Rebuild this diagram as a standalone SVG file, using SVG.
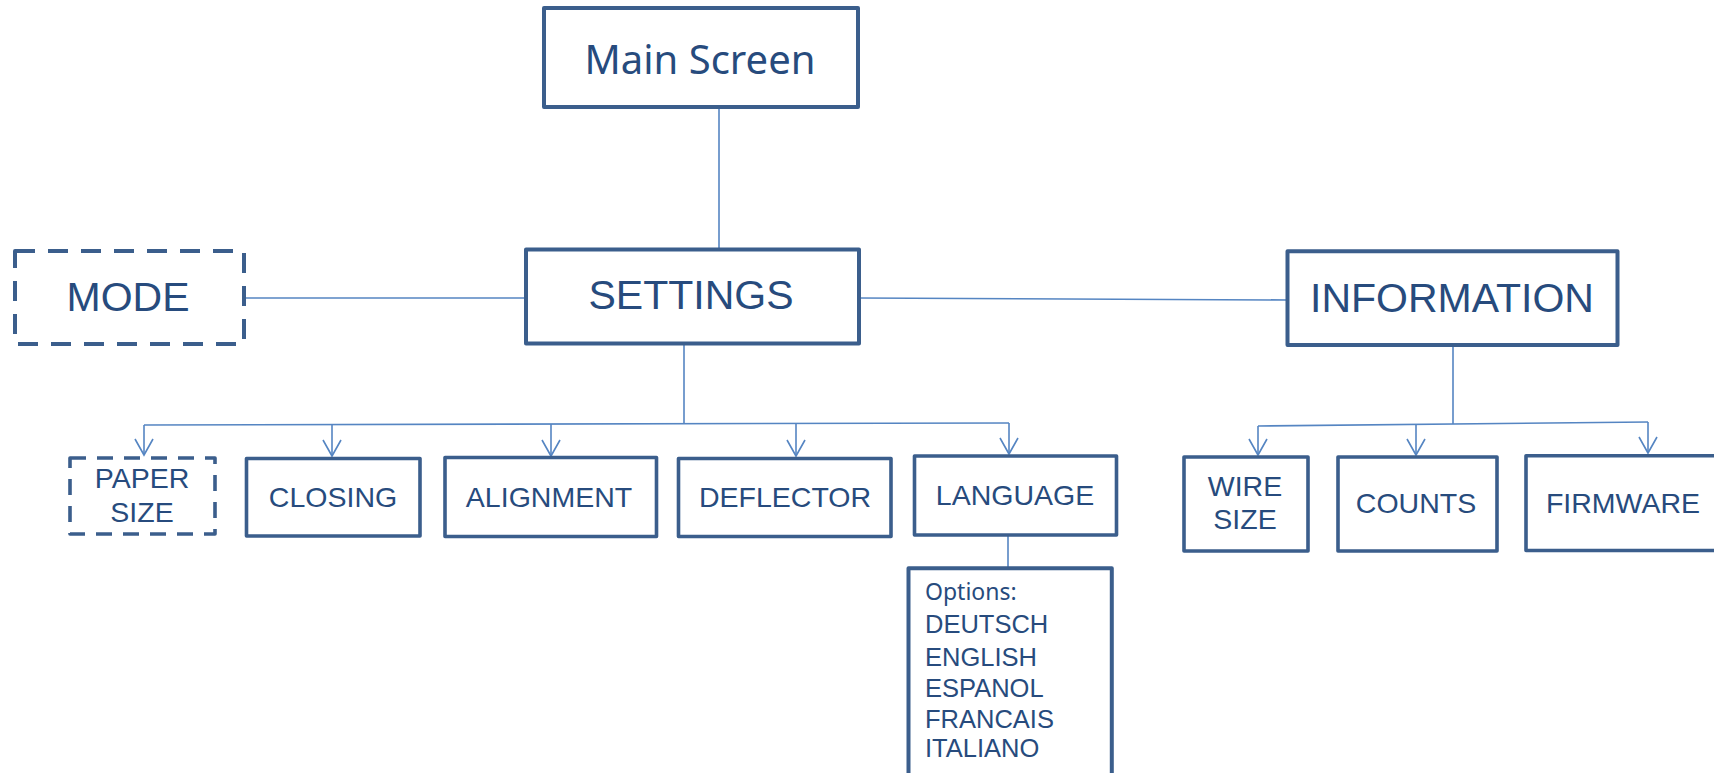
<svg xmlns="http://www.w3.org/2000/svg" width="1714" height="773" viewBox="0 0 1714 773">
<style>
.box{fill:#fff;stroke:#3B5E8C;stroke-width:4;stroke-linejoin:round}
.sbox{fill:#fff;stroke:#3B5E8C;stroke-width:3.6;stroke-linejoin:round}
.dash{stroke-dasharray:20 13}
.dash2{stroke-dasharray:16 11}
.t{font-family:"Liberation Sans",Arial,sans-serif;fill:#274B7D;text-anchor:middle}
.big{font-size:41px}
.small{font-size:28.5px}
.cal{font-family:"Noto Sans","Open Sans",sans-serif;fill:#274B7D}
.opt{font-family:"Liberation Sans",Arial,sans-serif;fill:#274B7D;font-size:25.5px}
.c{fill:none;stroke:#5585C2;stroke-width:1.6}
</style>
<defs>
<marker id="arr" markerUnits="userSpaceOnUse" viewBox="-18 -11 20 22" refX="0" refY="0" markerWidth="20" markerHeight="22" orient="auto" overflow="visible">
<path d="M-16,-9 L0,0 L-16,9" fill="none" stroke="#5585C2" stroke-width="1.6"/>
</marker>
</defs>
<g id="connectors">
<line class="c" x1="719" y1="107" x2="719" y2="249"/>
<line class="c" x1="244" y1="298" x2="526" y2="298"/>
<line class="c" x1="859" y1="298" x2="1287" y2="300"/>
<line class="c" x1="684" y1="344" x2="684" y2="424"/>
<polyline class="c" points="144,425 1009,423"/>
<line class="c" x1="144" y1="425" x2="144" y2="455" marker-end="url(#arr)"/>
<line class="c" x1="332" y1="425" x2="332" y2="456" marker-end="url(#arr)"/>
<line class="c" x1="551" y1="424" x2="551" y2="456" marker-end="url(#arr)"/>
<line class="c" x1="796" y1="424" x2="796" y2="456" marker-end="url(#arr)"/>
<line class="c" x1="1009" y1="423" x2="1009" y2="454" marker-end="url(#arr)"/>
<line class="c" x1="1008" y1="535" x2="1008" y2="568"/>
<line class="c" x1="1453" y1="345" x2="1453" y2="424"/>
<polyline class="c" points="1258,426 1648,422"/>
<line class="c" x1="1258" y1="426" x2="1258" y2="455" marker-end="url(#arr)"/>
<line class="c" x1="1416" y1="425" x2="1416" y2="455" marker-end="url(#arr)"/>
<line class="c" x1="1648" y1="422" x2="1648" y2="453" marker-end="url(#arr)"/>
</g>
<g id="main-screen">
<rect class="box" x="544" y="8" width="314" height="99"/>
<text class="cal" x="700" y="74" font-size="40" text-anchor="middle">Main Screen</text>
</g>
<g id="mode">
<rect class="box dash" x="15" y="251" width="229" height="93"/>
<text class="t big" x="128" y="311">MODE</text>
</g>
<g id="settings">
<rect class="box" x="526" y="249.5" width="333" height="94"/>
<text class="t big" x="691" y="309">SETTINGS</text>
</g>
<g id="information">
<rect class="box" x="1287.5" y="251.3" width="330" height="93.7"/>
<text class="t big" x="1452" y="312">INFORMATION</text>
</g>
<g id="paper-size">
<rect class="sbox dash2" x="70" y="458" width="145" height="76"/>
<text class="t small" x="142" y="488">PAPER</text>
<text class="t small" x="142" y="522">SIZE</text>
</g>
<g id="closing">
<rect class="sbox" x="246.5" y="458.5" width="173.5" height="77.5"/>
<text class="t small" x="333" y="507">CLOSING</text>
</g>
<g id="alignment">
<rect class="sbox" x="445" y="457.5" width="211.5" height="79"/>
<text class="t small" x="549" y="507">ALIGNMENT</text>
</g>
<g id="deflector">
<rect class="sbox" x="678.5" y="458.5" width="212.5" height="78"/>
<text class="t small" x="785" y="507">DEFLECTOR</text>
</g>
<g id="language">
<rect class="sbox" x="914.5" y="456" width="202" height="79"/>
<text class="t small" x="1015" y="505">LANGUAGE</text>
</g>
<g id="language-options">
<rect class="box" x="908.5" y="568.3" width="203.3" height="230"/>
<text class="cal" x="925" y="600" font-size="23">Options:</text>
<text class="opt" x="925" y="633">DEUTSCH</text>
<text class="opt" x="925" y="665.5">ENGLISH</text>
<text class="opt" x="925" y="696.5">ESPANOL</text>
<text class="opt" x="925" y="728">FRANCAIS</text>
<text class="opt" x="925" y="757">ITALIANO</text>
</g>
<g id="wire-size">
<rect class="sbox" x="1184" y="457" width="124" height="94"/>
<text class="t small" x="1245" y="496">WIRE</text>
<text class="t small" x="1245" y="529">SIZE</text>
</g>
<g id="counts">
<rect class="sbox" x="1338" y="457" width="159" height="94"/>
<text class="t small" x="1416" y="513">COUNTS</text>
</g>
<g id="firmware">
<rect class="sbox" x="1526" y="455.7" width="200" height="94.8"/>
<text class="t small" x="1623" y="513">FIRMWARE</text>
</g>
</svg>
